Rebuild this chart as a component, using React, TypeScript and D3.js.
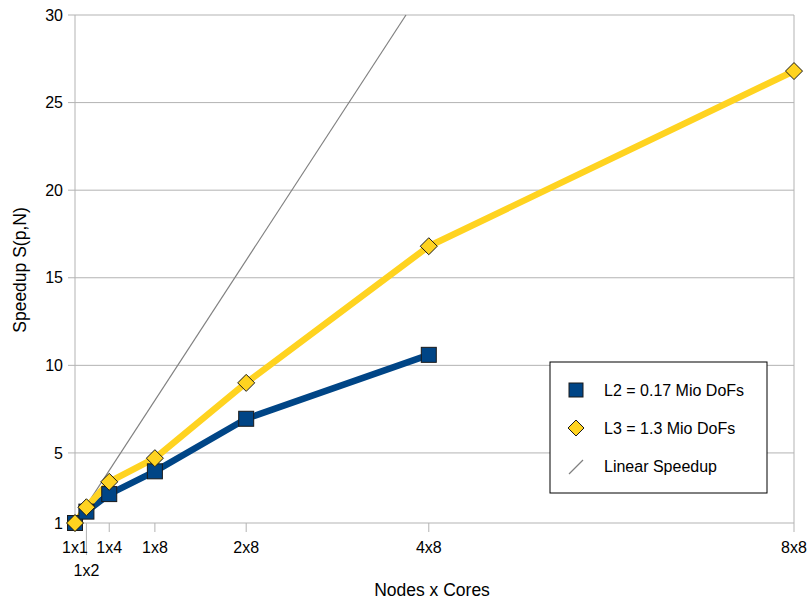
import React, { useEffect, useRef } from 'react';
import * as d3 from 'd3';

// cores per run and tick labels
const cores = [1, 2, 4, 8, 16, 32, 64];
const coreLabels = ['1x1', '1x2', '1x4', '1x8', '2x8', '4x8', '8x8'];
const yTicks = [1, 5, 10, 15, 20, 25, 30];

// speedup values
const l2Speedup = [1.0, 1.65, 2.65, 3.95, 6.95, 10.6];
const l3Speedup = [1.0, 1.9, 3.35, 4.7, 9.0, 16.8, 26.8];
const linearSpeedup = [1, 30];

const BLUE = '#004586';
const YELLOW = '#ffd320';
const FONT = "'Liberation Sans', Arial, sans-serif";

const App = () => {
  const ref = useRef<SVGSVGElement | null>(null);

  useEffect(() => {
    const svg = d3.select(ref.current);
    svg.selectAll('*').remove();

    const left = 75;
    const right = 794;
    const top = 15;
    const bottom = 523;

    const x = d3.scaleLinear().domain([1, 64]).range([left, right]);
    const y = d3.scaleLinear().domain([1, 30]).range([bottom, top]);

    // horizontal gridlines
    svg
      .append('g')
      .selectAll('line')
      .data(yTicks)
      .enter()
      .append('line')
      .attr('x1', left - 7)
      .attr('x2', right)
      .attr('y1', (d) => y(d))
      .attr('y2', (d) => y(d))
      .attr('stroke', '#b3b3b3')
      .attr('stroke-width', 1);

    // left axis and right border
    svg
      .append('line')
      .attr('x1', left)
      .attr('x2', left)
      .attr('y1', top)
      .attr('y2', bottom)
      .attr('stroke', '#b3b3b3');
    svg
      .append('line')
      .attr('x1', right)
      .attr('x2', right)
      .attr('y1', top)
      .attr('y2', bottom)
      .attr('stroke', '#b3b3b3');

    // x tick marks
    svg
      .append('g')
      .selectAll('line')
      .data(cores)
      .enter()
      .append('line')
      .attr('x1', (d) => x(d))
      .attr('x2', (d) => x(d))
      .attr('y1', bottom)
      .attr('y2', (d, i) => (i === 1 ? bottom + 32 : bottom + 9))
      .attr('stroke', '#b3b3b3');

    // y tick labels
    svg
      .append('g')
      .selectAll('text')
      .data(yTicks)
      .enter()
      .append('text')
      .attr('x', left - 12)
      .attr('y', (d) => y(d))
      .attr('dy', '0.35em')
      .attr('text-anchor', 'end')
      .style('font-family', FONT)
      .style('font-size', '16px')
      .style('fill', '#000')
      .text((d) => d);

    // x tick labels
    svg
      .append('g')
      .selectAll('text')
      .data(cores)
      .enter()
      .append('text')
      .attr('x', (d) => x(d))
      .attr('y', (d, i) => (i === 1 ? bottom + 53 : bottom + 30))
      .attr('text-anchor', 'middle')
      .style('font-family', FONT)
      .style('font-size', '16px')
      .style('fill', '#000')
      .text((d, i) => coreLabels[i]);

    const plot = svg.append('g');

    // linear speedup reference
    plot
      .append('line')
      .attr('x1', x(linearSpeedup[0]))
      .attr('y1', y(linearSpeedup[0]))
      .attr('x2', x(linearSpeedup[1]))
      .attr('y2', y(linearSpeedup[1]))
      .attr('stroke', '#808080')
      .attr('stroke-width', 1.2);

    const line = d3
      .line<number>()
      .x((d, i) => x(cores[i]))
      .y((d) => y(d));

    plot
      .append('path')
      .datum(l2Speedup)
      .attr('fill', 'none')
      .attr('stroke', BLUE)
      .attr('stroke-width', 6.5)
      .attr('stroke-linejoin', 'round')
      .attr('d', line);

    plot
      .append('path')
      .datum(l3Speedup)
      .attr('fill', 'none')
      .attr('stroke', YELLOW)
      .attr('stroke-width', 6.5)
      .attr('stroke-linejoin', 'round')
      .attr('d', line);

    plot
      .selectAll('.sq')
      .data(l2Speedup)
      .enter()
      .append('rect')
      .attr('class', 'sq')
      .attr('x', (d, i) => x(cores[i]) - 7.5)
      .attr('y', (d) => y(d) - 7.5)
      .attr('width', 15)
      .attr('height', 15)
      .attr('fill', BLUE)
      .attr('stroke', '#1a1a1a')
      .attr('stroke-width', 1);

    const diamond = (cx: number, cy: number, r: number) =>
      `M${cx},${cy - r}L${cx + r},${cy}L${cx},${cy + r}L${cx - r},${cy}Z`;

    plot
      .selectAll('.dm')
      .data(l3Speedup)
      .enter()
      .append('path')
      .attr('class', 'dm')
      .attr('d', (d, i) => diamond(x(cores[i]), y(d), 8.5))
      .attr('fill', YELLOW)
      .attr('stroke', '#1a1a1a')
      .attr('stroke-width', 1);

    // axis titles
    svg
      .append('text')
      .attr('x', 432)
      .attr('y', 596)
      .attr('text-anchor', 'middle')
      .style('font-family', FONT)
      .style('font-size', '17.5px')
      .text('Nodes x Cores');

    svg
      .append('text')
      .attr('transform', 'translate(26,270) rotate(-90)')
      .attr('text-anchor', 'middle')
      .style('font-family', FONT)
      .style('font-size', '17.5px')
      .text('Speedup S(p,N)');

    // legend
    const lg = svg.append('g').attr('transform', 'translate(550,362)');
    lg.append('rect')
      .attr('width', 217)
      .attr('height', 131)
      .attr('fill', '#fff')
      .attr('stroke', '#000')
      .attr('stroke-width', 1);

    lg.append('rect')
      .attr('x', 19)
      .attr('y', 21)
      .attr('width', 14)
      .attr('height', 14)
      .attr('fill', BLUE)
      .attr('stroke', '#1a1a1a');
    lg.append('path')
      .attr('d', diamond(26, 66, 8))
      .attr('fill', YELLOW)
      .attr('stroke', '#1a1a1a');
    lg.append('line')
      .attr('x1', 19)
      .attr('y1', 112)
      .attr('x2', 33)
      .attr('y2', 98)
      .attr('stroke', '#808080')
      .attr('stroke-width', 1.2);

    const labels = ['L2 = 0.17 Mio DoFs', 'L3 = 1.3 Mio DoFs', 'Linear Speedup'];
    lg.selectAll('.lt')
      .data(labels)
      .enter()
      .append('text')
      .attr('class', 'lt')
      .attr('x', 54)
      .attr('y', (d, i) => 28 + i * 38)
      .attr('dy', '0.35em')
      .style('font-family', FONT)
      .style('font-size', '16px')
      .text((d) => d);
  }, []);

  return (
    <svg
      ref={ref}
      width={807}
      height={602}
      style={{ position: 'absolute', left: 0, top: 0, background: '#fff' }}
    />
  );
};

export default App;
